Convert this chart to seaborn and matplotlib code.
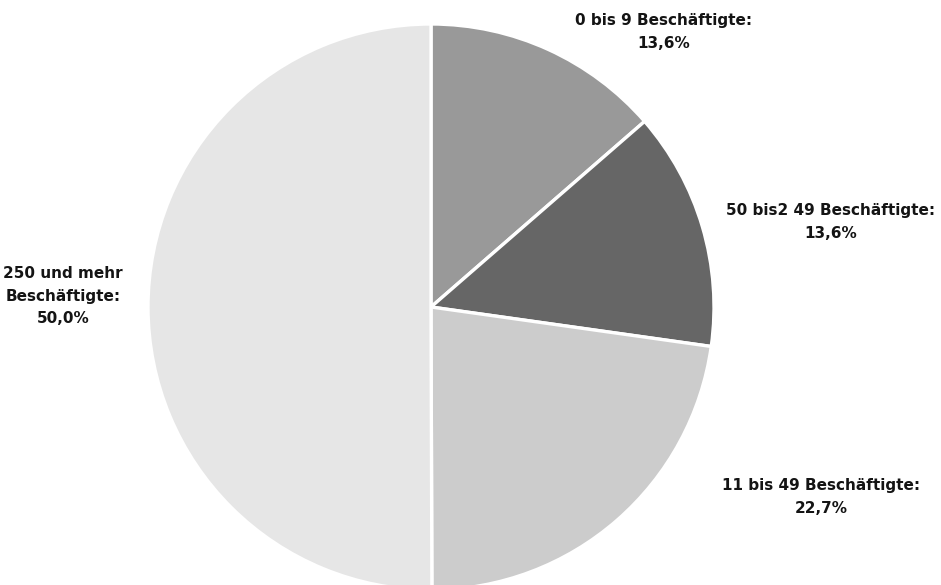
import matplotlib
matplotlib.use("Agg")
import matplotlib.pyplot as plt
import seaborn as sns

# Anteil der Unternehmen nach Beschäftigtengrößenklasse
categories = ["0 bis 9 Beschäftigte:", "50 bis2 49 Beschäftigte:",
              "11 bis 49 Beschäftigte:", "250 und mehr\nBeschäftigte:"]
shares = [13.6, 13.6, 22.7, 50.0]
colors = ["#999999", "#666666", "#cccccc", "#e6e6e6"]

# label anchor points (pixel space of the 941x585 canvas, origin bottom-left)
label_xy = [(664, 553), (831, 363), (821, 88), (63, 289)]

sns.set_theme(style="white")
plt.rcParams["font.family"] = ["DejaVu Sans"]

W, H = 941, 585
fig = plt.figure(figsize=(W / 100, H / 100), dpi=100)
ax = fig.add_axes([0, 0, 1, 1])

ax.pie(shares, colors=colors, startangle=90, counterclock=False,
       radius=283, center=(431, 278), frame=True,
       wedgeprops=dict(edgecolor="white", linewidth=2.4))
ax.set_xlim(0, W)
ax.set_ylim(0, H)
ax.set_aspect("equal")
ax.axis("off")

def fmt(v):
    return f"{v:.1f}".replace(".", ",") + "%"

for name, val, (x, y) in zip(categories, shares, label_xy):
    ax.text(x, y, f"{name}\n{fmt(val)}", ha="center", va="center",
            fontsize=11, fontweight="bold", color="#141414",
            linespacing=1.6)

fig.savefig("out.png", dpi=100, facecolor="white")
